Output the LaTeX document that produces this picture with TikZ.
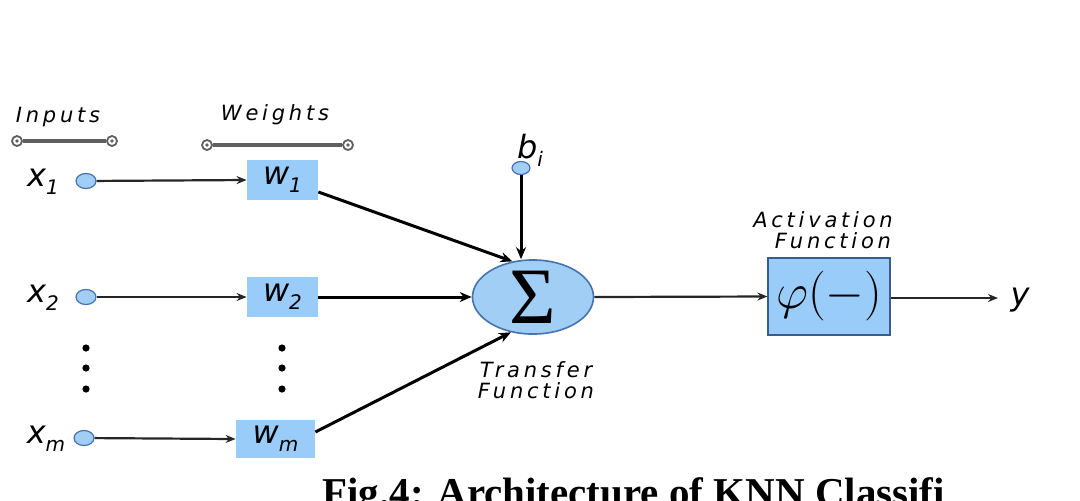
\documentclass[tikz,border=0pt]{standalone}
\usepackage{fontspec}
\usetikzlibrary{arrows.meta,shapes.geometric}
\newfontfamily\lblfont[LetterSpace=18]{DejaVu Sans}
\newfontfamily\varfont{DejaVu Sans}
\newfontfamily\capfont{Liberation Serif}
\definecolor{boxfill}{RGB}{153,204,248}
\definecolor{nodefill}{RGB}{160,206,244}
\definecolor{nodeedge}{RGB}{70,115,175}
\definecolor{ringgray}{RGB}{95,95,95}
\newcommand\lsub[1]{\raisebox{-0.45ex}{\fontsize{10}{10}\selectfont #1}}
\tikzset{
  inp/.style={ellipse,draw=nodeedge,fill=nodefill,line width=0.6pt,minimum width=10pt,minimum height=7.5pt,inner sep=0pt},
  wbox/.style={rectangle,fill=boxfill,inner sep=0pt,font=\varfont\itshape\fontsize{16}{16}\selectfont},
  varlbl/.style={inner sep=0pt,font=\varfont\itshape\fontsize{16}{16}\selectfont},
  toplbl/.style={inner sep=0pt,align=center,font=\lblfont\itshape\fontsize{10.5}{10.5}\selectfont},
  ring/.style={circle,draw=ringgray,line width=0.9pt,minimum size=5pt,inner sep=0pt,fill=white,
    path picture={\fill[ringgray] (path picture bounding box.center) circle (0.9pt);}},
  ringbar/.style={draw=ringgray,line width=1.6pt},
  inarrow/.style={draw=black!85,line width=1.1pt,-{Stealth[length=5pt,width=4pt]}},
  warrow/.style={draw=black,line width=1.5pt,-{Stealth[length=6pt,width=5pt]}},
}
\begin{document}
\begin{tikzpicture}[x=0.5pt,y=-0.5pt]
\useasboundingbox (0,0) rectangle (1080,500);
\clip (0,0) rectangle (1080,500);
% headers
\node[toplbl] (hin) at (58,117) {Inputs};
\node[toplbl] (hw) at (275,115) {Weights};
\node[ring] (r1) at (17,141) {};
\node[ring] (r2) at (112,141) {};
\node[ring] (r3) at (207,145) {};
\node[ring] (r4) at (348,145) {};
\draw[ringbar] (r1) -- (r2);
\draw[ringbar] (r3) -- (r4);
% inputs
\node[varlbl] (x1) at (43,182) {x\lsub{1}};
\node[varlbl] (x2) at (43,298) {x\lsub{2}};
\node[varlbl] (xm) at (46,439) {x\lsub{m}};
\node[inp] (c1) at (86,181) {};
\node[inp] (c2) at (86,297) {};
\node[inp] (cm) at (84,438) {};
% weights
\node[wbox,minimum width=35.5pt,minimum height=20pt] (w1) at (282.5,180) {w\lsub{1}};
\node[wbox,minimum width=35.5pt,minimum height=20pt] (w2) at (282.5,297) {w\lsub{2}};
\node[wbox,minimum width=39.5pt,minimum height=19pt] (wm) at (275.5,439) {w\lsub{m}};
% dots
\foreach \yy in {348,368,389}{
  \fill (86,\yy) circle (1.8pt);
  \fill (282,\yy) circle (1.8pt);
}
% summation
\node[ellipse,draw=nodeedge,fill=nodefill,line width=0.8pt,minimum width=60.5pt,minimum height=36pt,inner sep=0pt,
  font=\capfont\fontsize{40}{40}\selectfont] (s) at (533,297) {Σ};
\node[toplbl] (tf) at (536,380) {Transfer\\Function};
% bias
\node[varlbl] (bl) at (530,150) {b\lsub{i}};
\node[inp,minimum width=9pt,minimum height=6.5pt] (cb) at (521,168) {};
% activation
\node[rectangle,fill=boxfill,draw=nodeedge!80!black,line width=0.6pt,minimum width=61pt,minimum height=38.5pt,inner sep=0pt,
  font=\fontsize{24}{24}\selectfont] (phi) at (829,296.5) {$\varphi(-)$};
\node[toplbl] (af) at (823,230) {Activation\\\hspace*{10pt}Function};
\coordinate (yout) at (998,298);
\node[varlbl] (y) at (1020,300) {y};
% connectors
\draw[inarrow] (c1) -- (w1.west);
\draw[inarrow] (c2) -- (w2.west);
\draw[inarrow] (cm) -- (wm.west);
\draw[warrow] (w1.east |- 0,192) -- (s.120);
\draw[warrow] (w2.east) -- (s.west);
\draw[warrow] (wm.east |- 0,432) -- (s.238);
\draw[warrow] (cb) -- (s.north -| cb);
\draw[inarrow] (s.east) -- (phi.west);
\draw[inarrow] (phi.east |- yout) -- (yout);
% caption
\node[anchor=base west,inner sep=0pt,font=\capfont\bfseries\fontsize{20.5}{22}\selectfont] (cap) at (322,506) {Fig.4: Architecture of KNN Classifi};
\end{tikzpicture}
\end{document}
